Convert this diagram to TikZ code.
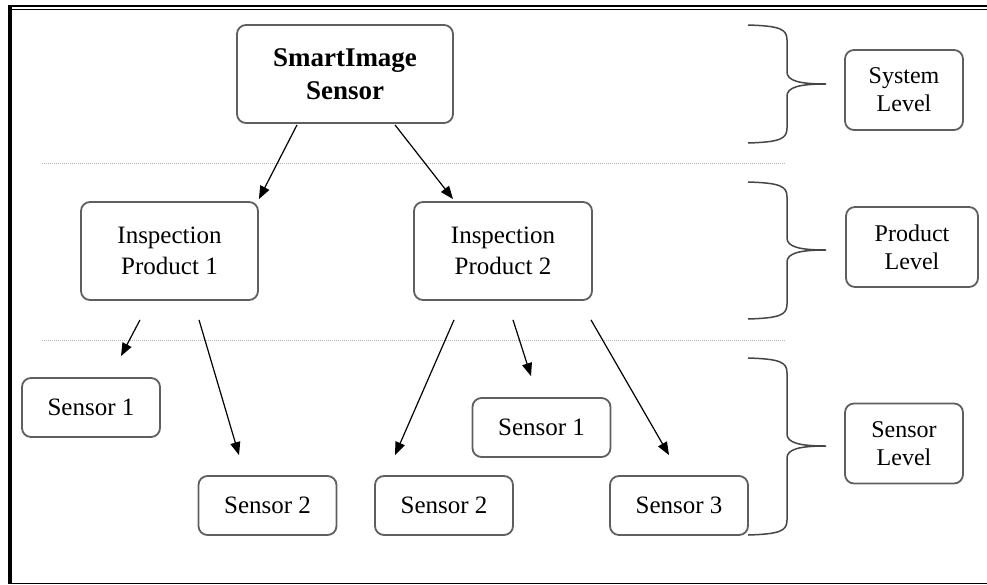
\documentclass[tikz,border=0pt]{standalone}
\usepackage{fontspec}
\setmainfont{Liberation Serif}
\usepackage{tikz}
\usetikzlibrary{arrows.meta,calc}

\definecolor{boxgray}{RGB}{95,95,95}
\definecolor{bracegray}{RGB}{70,70,70}

\begin{document}
\begin{tikzpicture}[->,>={Triangle[length=13pt,width=10pt]},x=1pt,y=-1pt,
line width=1.2pt]
\tikzstyle{box}=[draw=boxgray,line width=1.8pt,rounded corners=9pt,fill=white,inner sep=0pt,align=center,font=\fontsize{25}{31}\selectfont]
\tikzstyle{sensor}=[box,minimum width=138pt,minimum height=59pt]
\tikzstyle{level}=[box,minimum height=80pt,font=\fontsize{24}{28}\selectfont]
\tikzstyle{brace}=[-,draw=bracegray,line width=1.5pt]
\tikzstyle{sep}=[-,draw=gray!60,line width=1pt,dash pattern=on 1pt off 1pt]

\useasboundingbox (0,0) rectangle (987,584);

% frame
\draw[-,line width=2.5pt] (8,6) -- (987,6);
\draw[-,line width=1.5pt] (12,9.5) -- (987,9.5);
\fill (8,6) rectangle (12,584);
\draw[-,line width=1.2pt] (8,583.4) -- (987,583.4);

% level separators
\draw[sep] (42,163) -- (785,163);
\draw[sep] (42,340) -- (785,340);

\node[box,minimum width=216pt,minimum height=98pt,font=\fontsize{27}{33}\selectfont\bfseries] (A) at (345,74) {SmartImage\\Sensor};
\node[box,minimum width=177pt,minimum height=98pt] (B) at (169.5,251) {Inspection\\Product 1};
\node[box,minimum width=178pt,minimum height=98pt] (C) at (503,251) {Inspection\\Product 2};
\node[sensor] (D) at (91,407.5)    {Sensor 1};
\node[sensor] (E) at (267.5,505.5) {Sensor 2};
\node[sensor] (F) at (444,505.5)   {Sensor 2};
\node[sensor] (G) at (541.5,427.5) {Sensor 1};
\node[sensor] (H) at (679,505.5)   {Sensor 3};

\node[level,minimum width=118pt] (I) at (904,90)    {System\\Level};
\node[level,minimum width=132pt] (J) at (912,247)   {Product\\Level};
\node[level,minimum width=118pt] (K) at (904,443.5) {Sensor\\Level};

% braces
\draw[brace] (748,25) .. controls (780,26) and (787,29) .. (787,40) -- (787,72)
  .. controls (787,81) and (800,84) .. (826,84)
  .. controls (800,84) and (787,87) .. (787,96) -- (787,128)
  .. controls (787,139) and (780,142) .. (748,143);
\draw[brace] (748,182) .. controls (780,183) and (787,186) .. (787,197) -- (787,238)
  .. controls (787,247) and (800,250) .. (826,250)
  .. controls (800,250) and (787,253) .. (787,262) -- (787,304)
  .. controls (787,315) and (780,318) .. (748,319);
\draw[brace] (748,358) .. controls (780,359) and (787,362) .. (787,373) -- (787,434)
  .. controls (787,443) and (800,446) .. (826,446)
  .. controls (800,446) and (787,449) .. (787,458) -- (787,520)
  .. controls (787,531) and (780,534) .. (748,535);

\path ($(A.south)+(-48,1)$) edge ($(B.north east)+(0,-2)$)
($(A.south)+(50,1)$)  edge ($(C.north)+(-50,-2)$)
($(B.south)+(-29.5,19)$) edge ($(D.north)+(30,-21)$)
($(B.south)+(29.5,19)$)  edge ($(E.north)+(-28.5,-20)$)
($(C.south)+(-49,19)$) edge ($(F.north)+(-49,-20)$)
($(C.south)+(10,19)$)  edge ($(G.north)+(-10.5,-21)$)
($(C.south)+(88,19)$)  edge ($(H.north)+(-10,-20)$);
\end{tikzpicture}
\end{document}
